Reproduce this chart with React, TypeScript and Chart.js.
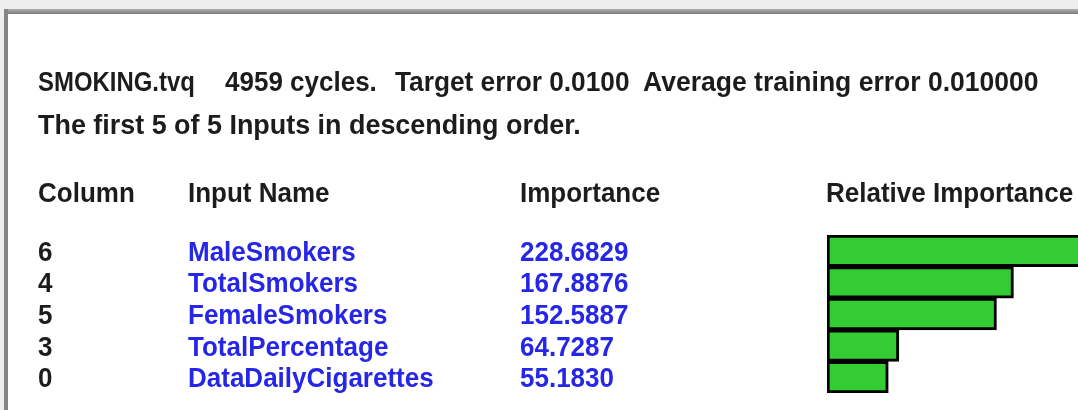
import React, { useEffect, useRef } from "react";
import { Chart, registerables } from "chart.js";

Chart.register(...registerables);

// ---- data ----
const columnIds = ["6", "4", "5", "3", "0"];
const inputNames = ["MaleSmokers", "TotalSmokers", "FemaleSmokers", "TotalPercentage", "DataDailyCigarettes"];
const importance = [228.6829, 167.8876, 152.5887, 64.7287, 55.183];
const headerSegments = ["SMOKING.tvq", "4959 cycles.", "Target error 0.0100", "Average training error 0.010000"];
const subtitle = "The first 5 of 5 Inputs in descending order.";
const columnHeaders = ["Column", "Input Name", "Importance", "Relative Importance"];

// ---- layout ----
const W = 1078;
const H = 410;
const PLOT_LEFT = 827;
const PLOT_TOP = 235;
const PLOT_BOTTOM = 393;
const X_MAX = 226;
const FONT = '"Liberation Sans Narrow", "Arial Narrow", "Liberation Sans", Arial, sans-serif';
const FS = 27;
const BASE_SX = 0.963;
const ASC = 23; // baseline offset from top for line-height = FS
const headerX = [38, 225, 395, 643];
const headerSX = [0.92, 1.0, 1.01, 1.02];
const colX = [38, 188, 520, 826];
const DARK = "#1c1c1c";
const BLUE = "#2626e6";

function Txt(props: { x: number; base: number; color?: string; sx?: number; children: React.ReactNode }) {
  const sx = BASE_SX * (props.sx || 1);
  return (
    <div
      style={{
        position: "absolute",
        left: props.x,
        top: props.base - ASC,
        fontFamily: FONT,
        fontWeight: "bold",
        fontSize: FS,
        lineHeight: FS + "px",
        color: props.color || DARK,
        whiteSpace: "pre",
        transform: `scaleX(${sx})`,
        transformOrigin: "0 0",
      }}
    >
      {props.children}
    </div>
  );
}

export default function App() {
  const ref = useRef<HTMLCanvasElement | null>(null);

  useEffect(() => {
    if (!ref.current) return;
    const chart = new Chart(ref.current, {
      type: "bar",
      data: {
        labels: inputNames,
        datasets: [
          {
            data: importance,
            backgroundColor: "#33cc33",
            borderColor: "#000000",
            borderWidth: 3,
            borderSkipped: false,
            barPercentage: 1,
            categoryPercentage: 1,
          },
        ],
      },
      options: {
        indexAxis: "y",
        responsive: false,
        animation: false,
        layout: { padding: { left: PLOT_LEFT, top: PLOT_TOP, right: 0, bottom: H - PLOT_BOTTOM } },
        plugins: { legend: { display: false }, tooltip: { enabled: false }, title: { display: false } },
        scales: {
          x: { display: false, min: 0, max: X_MAX },
          y: { display: false },
        },
      },
    });
    return () => chart.destroy();
  }, []);

  const rowH = (PLOT_BOTTOM - PLOT_TOP) / inputNames.length;

  return (
    <div style={{ position: "fixed", left: 0, top: 0, width: W, height: H, overflow: "hidden", background: "#ffffff" }}>
      <div style={{ position: "absolute", left: 0, top: 0, width: W, height: 9, background: "#eeeeee" }} />
      <div style={{ position: "absolute", left: 0, top: 0, width: 4, height: H, background: "#eeeeee" }} />
      <div
        style={{
          position: "absolute",
          left: 4,
          top: 9,
          width: W - 4,
          height: 5,
          background: "linear-gradient(#b0b0b0, #7c7c7c)",
        }}
      />
      <div style={{ position: "absolute", left: 4, top: 9, width: 4, height: H - 9, background: "#858585" }} />
      <canvas ref={ref} width={W} height={H} style={{ position: "absolute", left: 0, top: 0 }} />
      {headerSegments.map((s, i) => (
        <Txt key={"h" + i} x={headerX[i]} base={92} sx={headerSX[i]}>
          {s}
        </Txt>
      ))}
      <Txt x={38} base={135} sx={1.035}>
        {subtitle}
      </Txt>
      {columnHeaders.map((s, i) => (
        <Txt key={"c" + i} x={colX[i]} base={203}>
          {s}
        </Txt>
      ))}
      {inputNames.map((name, i) => {
        const base = PLOT_TOP + rowH * (i + 0.5) + 11;
        return (
          <React.Fragment key={"r" + i}>
            <Txt x={colX[0]} base={base}>
              {columnIds[i]}
            </Txt>
            <Txt x={colX[1]} base={base} color={BLUE}>
              {name}
            </Txt>
            <Txt x={colX[2]} base={base} color={BLUE}>
              {importance[i].toFixed(4)}
            </Txt>
          </React.Fragment>
        );
      })}
    </div>
  );
}
